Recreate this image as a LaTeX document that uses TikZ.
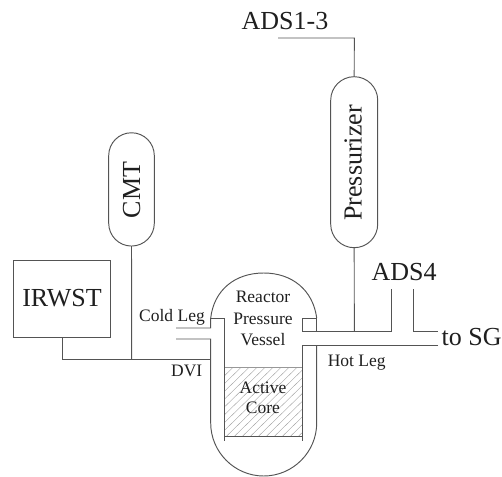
\documentclass[tikz,border=0pt]{standalone}
\usepackage{fontspec}
\setmainfont{Liberation Serif}
\definecolor{linecol}{gray}{0.33}
\definecolor{txtcol}{gray}{0.12}
\tikzset{
  x=1pt,y=-1pt,
  pipe/.style={draw=linecol,line width=0.95pt},
  lightpipe/.style={draw=linecol!60,line width=0.9pt},
  hatchline/.style={draw=linecol!55,line width=0.4pt},
  capsule/.style={draw=linecol,line width=0.95pt,rectangle,rounded corners=22.8pt,inner sep=0,outer sep=0},
  tankbox/.style={draw=linecol,line width=0.95pt,rectangle,inner sep=0,outer sep=0,minimum width=97pt,minimum height=77pt},
  biglabel/.style={anchor=base,text=txtcol,inner sep=0,font=\fontsize{26}{26}\selectfont},
  smalllabel/.style={anchor=base,text=txtcol,inner sep=0,font=\fontsize{17.5}{17.5}\selectfont},
}
\begin{document}
\begin{tikzpicture}
\useasboundingbox (0,0) rectangle (502,476);
\clip (0,0) rectangle (502,476);
% named points
\coordinate (dviL) at (62,359);
\coordinate (dviC) at (131.7,359);
\coordinate (dviR) at (210.7,359);
\coordinate (adsEnd) at (278,38);
\coordinate (adsBend) at (354.3,38);
\coordinate (hotJoin) at (354.3,331);
\coordinate (adsFourA) at (391.7,289.3);
\coordinate (adsFourB) at (413.7,289.3);
\coordinate (sgUp) at (438,331);
\coordinate (sgLow) at (438,345);
\coordinate (coldUp) at (176,328);
\coordinate (coldLow) at (176,339);
% tanks
\node[tankbox] (irwst) at (62,299.2) {};
\node[capsule,minimum width=45.6pt,minimum height=113.3pt] (cmt) at (131.5,189.4) {};
\node[capsule,rounded corners=23.5pt,minimum width=47pt,minimum height=171pt] (prz) at (354.2,162.2) {};
% core hatching
\begin{scope}
\clip (224.7,367.7) rectangle (302.7,436);
\foreach \hx in {0,8,...,152}{
  \draw[hatchline] (224.7+\hx-70,436) -- (224.7+\hx,367.7);
}
\end{scope}
\draw[lightpipe] (224.7,367.7) -- (302.7,367.7);
\draw[pipe] (224.7,436) -- (302.7,436);
% vessel
\draw[pipe] (coldUp) -- (210.7,328) -- (210.7,318)
  .. controls (214,290) and (235,273) .. (263.7,273)
  .. controls (292,273) and (313,290) .. (316.7,318);
\draw[pipe] (210.7,318) -- (224.7,318) -- (224.7,441);
\draw[pipe] (316.7,318) -- (302.7,318) -- (302.7,331) -- (391.7,331) -- (adsFourA);
\draw[pipe] (316.7,318) -- (316.7,331);
\draw[pipe] (coldLow) -- (210.7,339) -- (210.7,423)
  .. controls (210.7,452) and (234.5,476) .. (263.7,476)
  .. controls (292.9,476) and (316.7,452) .. (316.7,423) -- (316.7,345);
\draw[pipe] (sgLow) -- (302.7,345) -- (302.7,441);
% connectors
\draw[pipe] (irwst.south) -- (dviL) -- (dviR);
\draw[pipe] (cmt.south) -- (dviC);
\draw[pipe] (adsEnd) -- (adsBend) -- (prz.north);
\draw[pipe] (prz.south) -- (hotJoin);
\draw[pipe] (adsFourB) -- (413.7,331) -- (sgUp);
% labels
\node[biglabel] (lads) at (285,30) {ADS1-3};
\node[biglabel] (lads4) at (404,280) {ADS4};
\node[biglabel] (lsg) at (471.7,345) {to SG};
\node[biglabel] (lirwst) at (62,306.7) {IRWST};
\node[biglabel,rotate=90] (lcmt) at (140,190) {CMT};
\node[biglabel,rotate=90] (lprz) at (361.7,163) {Pressurizer};
\node[smalllabel] (lcold) at (172,321.7) {Cold Leg};
\node[smalllabel] (lhot) at (356.7,366) {Hot Leg};
\node[smalllabel] (ldvi) at (186.7,376.7) {DVI};
\node[smalllabel] (lr1) at (263,302.7) {Reactor};
\node[smalllabel] (lr2) at (263,324) {Pressure};
\node[smalllabel] (lr3) at (263,345) {Vessel};
\node[smalllabel] (lc1) at (263,393) {Active};
\node[smalllabel] (lc2) at (263,413) {Core};
\end{tikzpicture}
\end{document}
